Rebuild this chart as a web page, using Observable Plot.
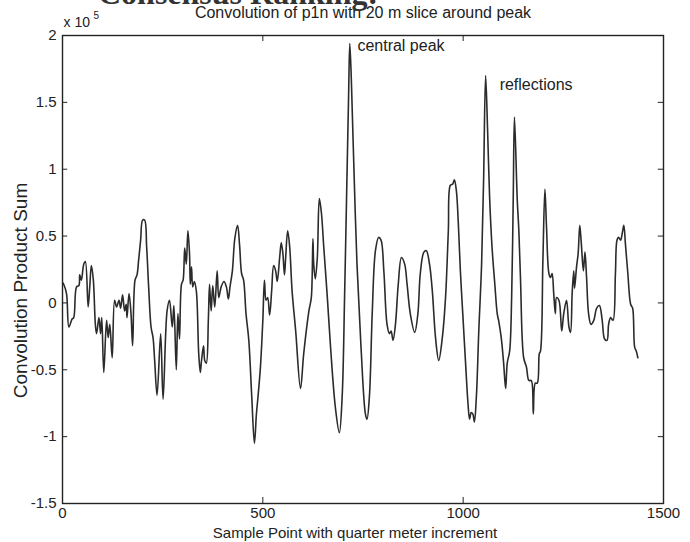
<!DOCTYPE html>
<html>
<head>
<meta charset="utf-8">
<script src="https://cdn.jsdelivr.net/npm/d3@7"></script>
<script src="https://cdn.jsdelivr.net/npm/@observablehq/plot@0.6"></script>
<style>
  html, body { margin: 0; padding: 0; background: #fff; }
  #wrap { position: relative; width: 690px; height: 542px; overflow: hidden; }
  #header { position: absolute; left: 98px; top: -25px; font-family: "Liberation Serif", "DejaVu Serif", serif; font-size: 32px; font-weight: bold; color: #333; white-space: nowrap; }
  #chart { position: absolute; left: 0; top: 0; }
</style>
</head>
<body>
<div id="wrap">
  <div id="chart"></div>
  <div id="header">Consensus Ranking:</div>
</div>
<script>
// Title and labels
const titleText = "Convolution of p1n with 20 m slice around peak";
const xLabel = "Sample Point with quarter meter increment";
const yLabel = "Convolution Product Sum";
const annotations = [
  {x: 736, y: 1.92, text: "central peak"},
  {x: 1091, y: 1.63, text: "reflections"}
];
const xTicks = [0, 500, 1000, 1500];
const yTicks = [-1.5, -1, -0.5, 0, 0.5, 1, 1.5, 2];

// Sample index along the record
const samples = [
  1,3,10,16,24,28,35,41,43,47,
  53,57,64,68,72,77,82,85,91,95,
  98,103,110,114,118,124,130,135,141,145,
  150,155,159,161,166,171,175,181,186,190,
  195,200,205,210,215,221,226,230,236,245,
  251,261,267,274,278,284,288,292,297,301,
  305,309,313,317,319,322,325,329,334,340,
  344,347,352,355,359,364,367,371,375,380,
  386,390,396,403,409,414,418,424,430,437,
  442,447,452,458,465,472,479,484,488,494,
  500,504,508,512,517,522,527,532,536,542,
  546,550,554,557,562,567,573,582,594,602,
  615,621,625,627,631,636,641,646,652,661,
  669,681,691,698,704,709,714,717,721,727,
  735,745,756,760,766,773,781,789,795,802,
  810,816,820,825,831,838,846,854,860,868,
  879,887,893,902,908,916,923,931,939,948,
  956,963,968,974,978,983,988,993,999,1006,
  1012,1016,1020,1024,1028,1033,1039,1046,1051,1056,
  1061,1066,1072,1079,1085,1089,1095,1101,1106,1110,
  1116,1121,1125,1128,1135,1139,1143,1151,1158,1164,
  1170,1175,1180,1185,1190,1193,1199,1204,1208,1214,
  1218,1222,1226,1230,1233,1239,1246,1251,1258,1264,
  1268,1272,1276,1278,1283,1287,1291,1295,1300,1304,
  1308,1313,1319,1326,1333,1340,1347,1353,1359,1363,
  1368,1374,1380,1384,1388,1393,1397,1401,1405,1411,
  1418,1423,1428,1432,1436
];

// Convolution product sum, in units of 10^5
const convSum = [
  0.15,0.14,0.07,-0.18,-0.12,-0.11,0.12,0.13,0.21,0.17,
  0.29,0.31,-0.03,0.12,0.28,0.17,-0.16,-0.23,-0.11,-0.23,
  -0.11,-0.52,-0.13,-0.26,-0.16,-0.41,0.02,-0.03,0.02,-0.04,
  0.06,-0.06,-0.01,-0.11,0.07,-0.08,-0.32,0.17,0.21,0.32,
  0.47,0.62,0.62,0.42,0.12,-0.18,-0.26,-0.43,-0.69,-0.23,
  -0.72,-0.06,0.02,-0.18,-0.02,-0.5,-0.08,-0.27,0.14,0.17,
  0.41,0.29,0.54,0.37,0.14,0.27,0.12,0.16,0.09,-0.38,
  -0.52,-0.43,-0.32,-0.43,-0.45,-0.13,0.14,-0.06,0.13,-0.03,
  0.24,0.04,0.12,0.16,0.12,0.03,0.12,0.24,0.48,0.58,
  0.43,0.22,0.17,-0.08,-0.28,-0.68,-1.05,-0.83,-0.70,-0.48,
  -0.13,0.17,0.02,0.04,-0.09,0.09,0.28,0.24,0.16,0.34,
  0.45,0.37,0.21,0.34,0.54,0.42,0.09,-0.21,-0.64,-0.38,
  -0.06,0.04,0.48,0.29,0.18,0.34,0.78,0.68,0.42,0.04,
  -0.33,-0.78,-0.97,-0.70,0.04,0.79,1.54,1.94,1.66,1.04,
  0.29,-0.33,-0.83,-0.87,-0.70,-0.08,0.39,0.49,0.47,0.24,
  -0.16,-0.23,-0.21,-0.28,-0.16,0.14,0.34,0.29,0.14,-0.08,
  -0.22,-0.08,0.22,0.38,0.39,0.29,0.09,-0.26,-0.43,-0.26,
  0.04,0.54,0.88,0.89,0.92,0.84,0.59,0.24,-0.08,-0.45,
  -0.75,-0.87,-0.82,-0.83,-0.89,-0.70,-0.21,0.29,0.92,1.70,
  1.29,0.79,0.42,0.14,-0.08,-0.14,-0.26,-0.45,-0.64,-0.45,
  -0.36,0.04,0.79,1.39,0.77,0.54,0.19,-0.41,-0.48,-0.58,
  -0.58,-0.83,-0.60,-0.60,-0.38,-0.36,0.32,0.85,0.57,0.22,
  0.19,0.22,0.07,-0.08,0.04,0.02,-0.21,-0.08,0.02,-0.18,
  -0.22,0.07,0.24,0.11,0.27,0.37,0.58,0.44,0.24,0.38,
  0.19,-0.08,-0.16,-0.13,-0.04,-0.02,-0.13,-0.27,-0.28,-0.16,
  -0.11,-0.13,0.22,0.47,0.49,0.47,0.52,0.58,0.44,0.22,
  -0.01,-0.04,-0.33,-0.36,-0.41
];

const data = samples.map((s, i) => ({s, v: convSum[i]}));
const fmt = d => String(d);
const font = "'Liberation Sans', Arial, Helvetica, sans-serif";
const ink = "#222";

const chart = Plot.plot({
  width: 690,
  height: 542,
  marginLeft: 62,
  marginRight: 27,
  marginTop: 35,
  marginBottom: 39,
  style: {fontFamily: font, fontSize: "15px", color: ink, background: "transparent"},
  x: {domain: [0, 1500], ticks: xTicks, tickFormat: fmt, label: null},
  y: {domain: [-1.5, 2], ticks: yTicks, tickFormat: fmt, label: null},
  marks: [
    Plot.axisX({ticks: xTicks, tickSize: 0, tickPadding: 4, tickFormat: fmt, label: null, fontSize: 15}),
    Plot.axisY({ticks: yTicks, tickSize: 0, tickPadding: 6, tickFormat: fmt, label: null, fontSize: 15}),
    // inward ticks (MATLAB style)
    Plot.ruleY(yTicks, {y: d => d, x1: 0, x2: 13, stroke: ink, strokeWidth: 1}),
    Plot.ruleY(yTicks, {y: d => d, x1: 1487, x2: 1500, stroke: ink, strokeWidth: 1}),
    Plot.ruleX(xTicks, {x: d => d, y1: -1.5, y2: -1.455, stroke: ink, strokeWidth: 1}),
    Plot.ruleX(xTicks, {x: d => d, y1: 1.955, y2: 2, stroke: ink, strokeWidth: 1}),
    Plot.line(data, {x: "s", y: "v", stroke: "#2b2b2b", strokeWidth: 1.6, curve: "catmull-rom"}),
    Plot.frame({stroke: ink, strokeWidth: 1.4}),
    Plot.text(annotations, {x: "x", y: "y", text: "text", textAnchor: "start", fontSize: 16, fill: ink}),
    Plot.text([titleText], {frameAnchor: "top", dy: -29, fontSize: 16, fill: ink}),
    Plot.text(["x 10"], {frameAnchor: "top-left", dx: 1, dy: -18, textAnchor: "start", fontSize: 14, fill: ink}),
    Plot.text(["5"], {frameAnchor: "top-left", dx: 31, dy: -24, textAnchor: "start", fontSize: 10, fill: ink}),
    Plot.text([xLabel], {frameAnchor: "bottom", dx: -8, dy: 34, fontSize: 15, fill: ink}),
    Plot.text([yLabel], {frameAnchor: "left", dx: -42, dy: 21, rotate: -90, textAnchor: "middle", lineAnchor: "middle", fontSize: 19, fill: ink})
  ]
});
document.getElementById("chart").appendChild(chart);
</script>
</body>
</html>
